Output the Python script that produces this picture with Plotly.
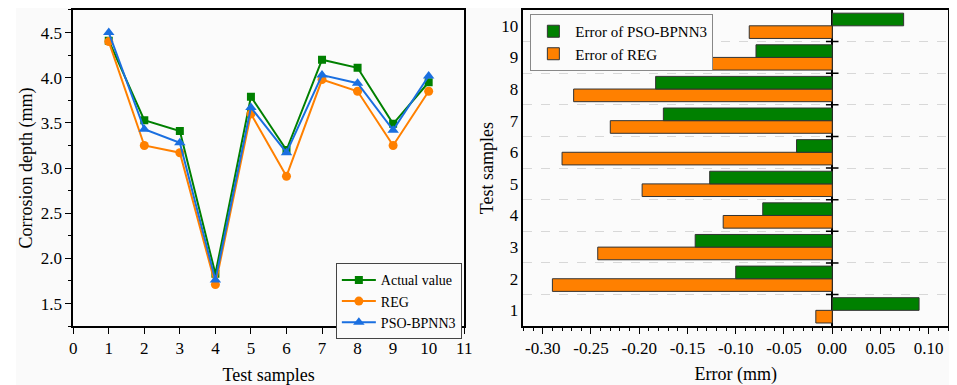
import plotly.graph_objects as go

# ---- data ----
samples = [1, 2, 3, 4, 5, 6, 7, 8, 9, 10]
actual = [4.41, 3.53, 3.41, 1.83, 3.79, 3.20, 4.20, 4.11, 3.49, 3.95]
reg = [4.40, 3.25, 3.17, 1.71, 3.60, 2.91, 3.98, 3.85, 3.25, 3.85]
pso = [4.50, 3.43, 3.28, 1.76, 3.67, 3.17, 4.03, 3.94, 3.42, 4.02]

err_pso = [0.090, -0.100, -0.142, -0.072, -0.127, -0.037, -0.175, -0.183, -0.079, 0.074]
err_reg = [-0.017, -0.290, -0.243, -0.113, -0.197, -0.280, -0.230, -0.268, -0.249, -0.086]

left_xticks = [0, 1, 2, 3, 4, 5, 6, 7, 8, 9, 10, 11]
left_yticks = [1.5, 2.0, 2.5, 3.0, 3.5, 4.0, 4.5]
left_yticklabels = ["1.5", "2.0", "2.5", "3.0", "3.5", "4.0", "4.5"]
right_xticks = [-0.30, -0.25, -0.20, -0.15, -0.10, -0.05, 0.00, 0.05, 0.10]
right_xticklabels = ["-0.30", "-0.25", "-0.20", "-0.15", "-0.10", "-0.05", "0.00", "0.05", "0.10"]
boundaries = [1.5, 2.5, 3.5, 4.5, 5.5, 6.5, 7.5, 8.5, 9.5]

GREEN = "#008000"
ORANGE = "#ff8000"
BLUE = "#1a6fe0"
FONT = "Liberation Serif, Times New Roman, Times, DejaVu Serif, serif"

# page body has an 8px margin; figure is sized so it ends at the window edge
OFF = 8
W, H = 957 - OFF, 385 - OFF


def px(x):
    return (x - OFF) / W


def py(y):
    return 1 - (y - OFF) / H


fig = go.Figure()

# ---- left panel ----
fig.add_trace(go.Scatter(x=samples, y=actual, name="Actual value", mode="lines+markers",
                         line=dict(color=GREEN, width=2), marker=dict(symbol="square", size=8, color=GREEN),
                         xaxis="x", yaxis="y", legend="legend"))
fig.add_trace(go.Scatter(x=samples, y=reg, name="REG", mode="lines+markers",
                         line=dict(color=ORANGE, width=2), marker=dict(symbol="circle", size=9, color=ORANGE),
                         xaxis="x", yaxis="y", legend="legend"))
fig.add_trace(go.Scatter(x=samples, y=pso, name="PSO-BPNN3", mode="lines+markers",
                         line=dict(color=BLUE, width=2), marker=dict(symbol="triangle-up", size=10, color=BLUE),
                         xaxis="x", yaxis="y", legend="legend"))

# ---- right panel (REG first -> lower bar in each group, PSO upper) ----
fig.add_trace(go.Bar(y=samples, x=err_reg, orientation="h", name="Error of REG",
                     marker=dict(color=ORANGE, line=dict(color="#333333", width=1)),
                     xaxis="x2", yaxis="y2", legend="legend2", legendrank=2))
fig.add_trace(go.Bar(y=samples, x=err_pso, orientation="h", name="Error of PSO-BPNN3",
                     marker=dict(color=GREEN, line=dict(color="#333333", width=1)),
                     xaxis="x2", yaxis="y2", legend="legend2", legendrank=1))
fig.add_trace(go.Scatter(x=[0] * len(boundaries), y=boundaries, mode="markers", showlegend=False,
                         marker=dict(symbol="line-ew-open", size=9, color="black", line=dict(width=1.5)),
                         hoverinfo="skip", xaxis="x2", yaxis="y2"))

ydom = [py(326), py(9)]
axis_common = dict(showline=True, linecolor="black", linewidth=1.5, mirror=True,
                   showgrid=False, zeroline=False, ticks="outside", tickcolor="black",
                   tickfont=dict(family=FONT, size=17, color="black"))

fig.update_layout(
    width=W, height=H,
    margin=dict(l=0, r=0, t=0, b=0),
    paper_bgcolor="#fafafa", plot_bgcolor="#fbfbfb",
    font=dict(family=FONT, size=15, color="black"),
    barmode="group", bargap=0.2, bargroupgap=0,
    xaxis=dict(axis_common, domain=[px(70), px(466)], range=[0, 11], tickvals=left_xticks,
               ticklen=6, title=dict(text="Test samples", font=dict(family=FONT, size=18), standoff=12),
               anchor="y"),
    yaxis=dict(axis_common, domain=ydom, range=[1.25, 4.75], tickvals=left_yticks,
               ticktext=left_yticklabels, ticklen=6,
               minor=dict(dtick=0.25, tick0=0, ticks="outside", ticklen=3, tickcolor="black"),
               title=dict(text="Corrosion depth (mm)", font=dict(family=FONT, size=18), standoff=4),
               anchor="x"),
    xaxis2=dict(axis_common, domain=[px(526), px(956)], range=[-0.32, 0.12], tickvals=right_xticks,
                ticktext=right_xticklabels, ticklen=6,
                minor=dict(dtick=0.01, tick0=0, ticks="outside", ticklen=3, tickcolor="black"),
                zeroline=True, zerolinecolor="black", zerolinewidth=1.5,
                title=dict(text="Error (mm)", font=dict(family=FONT, size=18), standoff=12),
                anchor="y2"),
    yaxis2=dict(axis_common, domain=ydom, range=[0.5, 10.5], tickvals=samples, ticks="",
                minor=dict(tickvals=boundaries, showgrid=True, griddash="dash", gridcolor="#d8d8d8",
                           gridwidth=1, ticks=""),
                title=dict(text="Test samples", font=dict(family=FONT, size=18), standoff=3),
                anchor="x2"),
    legend=dict(x=px(336), y=py(263), xanchor="left", yanchor="top",
                bgcolor="#fbfbfb", bordercolor="#444444", borderwidth=1,
                font=dict(family=FONT, size=14), tracegroupgap=0, itemwidth=34),
    legend2=dict(x=px(533), y=py(13), xanchor="left", yanchor="top",
                 bgcolor="#fbfbfb", bordercolor="#888888", borderwidth=1,
                 font=dict(family=FONT, size=15), tracegroupgap=0, itemwidth=34),
    shapes=[
        dict(type="rect", xref="paper", yref="paper", x0=-0.01, x1=px(12), y0=-0.01, y1=1.01,
             fillcolor="white", line=dict(width=0), layer="below"),
    ],
)

fig.write_html("out.html")
